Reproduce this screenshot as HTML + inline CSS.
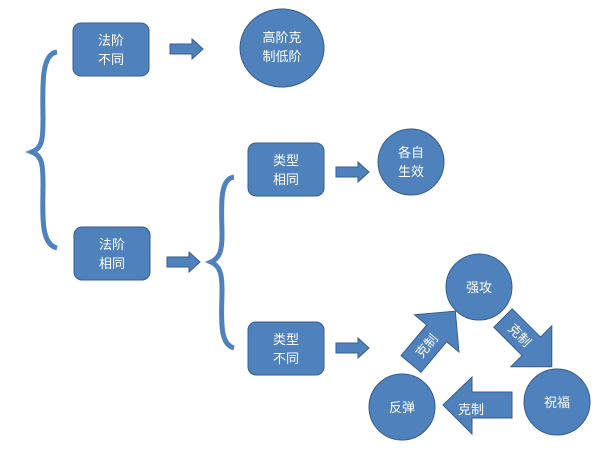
<!DOCTYPE html>
<html><head><meta charset="utf-8"><style>
html,body{margin:0;padding:0;background:#fff}
svg text{font-family:"Liberation Sans","Noto Sans CJK SC",sans-serif;fill:#fff;font-size:13px;text-anchor:middle}
</style></head><body>
<svg width="600" height="463" viewBox="0 0 600 463" xmlns="http://www.w3.org/2000/svg">
<defs>
<g id="ra"><path d="M0,-5 H22 V-10 L33,0 L22,10 V5 H0 Z" fill="#4f81bd" stroke="#385d8a" stroke-width="1"/></g>
<g id="big"><path d="M0,-13 H40 V-29 L69,0 L40,29 V13 H0 Z" fill="#4f81bd" stroke="#385d8a" stroke-width="1"/></g>
</defs>
<g fill="#4f81bd" stroke="#385d8a" stroke-width="1">
<rect x="73" y="23" width="76" height="53" rx="8"/>
<rect x="74" y="227" width="76" height="53" rx="8"/>
<rect x="248" y="143" width="76" height="53" rx="8"/>
<rect x="248" y="322" width="76" height="53" rx="8"/>
<ellipse cx="282" cy="48" rx="42" ry="39"/>
<circle cx="411" cy="162" r="33"/>
<circle cx="479" cy="287" r="33"/>
<circle cx="557" cy="402" r="33"/>
<circle cx="402" cy="407" r="33"/>
</g>
<use href="#ra" x="170" y="49"/>
<use href="#ra" x="167" y="262"/>
<use href="#ra" x="336" y="172"/>
<use href="#ra" x="336" y="348"/>
<path d="M57,52 C40,54 43,90 43,120 C43,140 42,148 32,152 C42,156 43,164 43,184 C43,214 40,244 57,248" fill="none" stroke="#4f81bd" stroke-width="5"/>
<path d="M234,177 C218,179 222,212 222,235 C222,250 220,258 211,262 C220,266 222,274 222,289 C222,314 218,344 234,348" fill="none" stroke="#4f81bd" stroke-width="5"/>
<g transform="translate(411,364) rotate(-50)"><use href="#big"/><text x="24" y="5" font-size="14">克制</text></g>
<g transform="translate(503,318) rotate(45)"><use href="#big"/><text x="24" y="5" font-size="14">克制</text></g>
<path d="M512,392 H472 V377 L443,405 L472,434 V418 H512 Z" fill="#4f81bd" stroke="#385d8a" stroke-width="1"/>
<text x="471" y="414" font-size="14">克制</text>
<text x="111" y="45">法阶</text><text x="111" y="64">不同</text>
<text x="112" y="249">法阶</text><text x="112" y="268">相同</text>
<text x="286" y="165">类型</text><text x="286" y="184">相同</text>
<text x="286" y="344">类型</text><text x="286" y="363">不同</text>
<text x="282" y="42">高阶克</text><text x="282" y="61">制低阶</text>
<text x="411" y="157">各自</text><text x="411" y="176">生效</text>
<text x="479" y="292">强攻</text>
<text x="557" y="407">祝福</text>
<text x="402" y="412">反弹</text>
</svg>
</body></html>
